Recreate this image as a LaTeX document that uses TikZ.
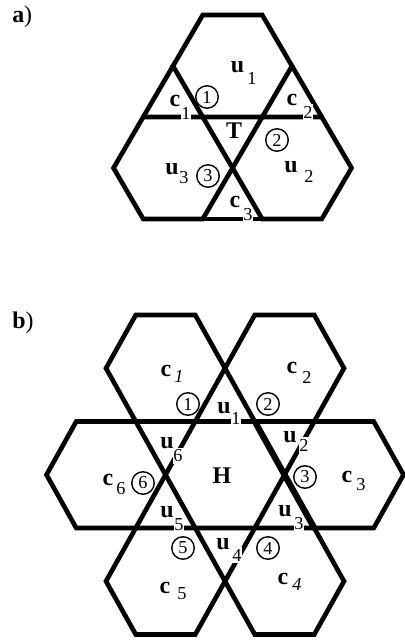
\documentclass[tikz,border=0pt]{standalone}
\usepackage{fontspec}
\setmainfont{Liberation Serif}
\begin{document}
\begin{tikzpicture}[hexline/.style={line width=3.3pt,line join=miter},lab/.style={inner sep=0pt,font=\fontsize{17}{17}\selectfont\bfseries},sub/.style={fill=white,inner xsep=.6pt,inner ysep=1.5pt,font=\fontsize{13}{13}\selectfont},num/.style={draw,circle,line width=1pt,inner sep=0pt,minimum size=16pt,font=\fontsize{13}{13}\selectfont}]
\useasboundingbox (0,0) rectangle (10.1,16.025);
\draw[hexline] (7.3,14.375) -- (6.556,15.65) -- (5.069,15.65) -- (4.325,14.375) -- (5.069,13.1) -- (6.556,13.1) -- cycle;
\draw[hexline] (5.813,11.825) -- (5.069,13.1) -- (3.581,13.1) -- (2.838,11.825) -- (3.581,10.55) -- (5.069,10.55) -- cycle;
\draw[hexline] (8.788,11.825) -- (8.044,13.1) -- (6.556,13.1) -- (5.813,11.825) -- (6.556,10.55) -- (8.044,10.55) -- cycle;
\draw[hexline] (4.325,14.375) -- (3.581,13.1);
\draw[hexline] (7.3,14.375) -- (8.044,13.1);
\draw[hexline] (5.069,10.55) -- (6.556,10.55);
\node[anchor=west,inner sep=0pt,font=\fontsize{17}{17}\selectfont] (pa) at (0.3,15.6) {\textbf{a})};
\node[lab] (au1) at (5.938,14.35) {u};
\node[sub] (au1s) at (6.3,14.075) {1};
\node[lab] (ac1) at (4.375,13.5) {c};
\node[sub] (ac1s) at (4.65,13.2) {1};
\node[num] (an1) at (5.175,13.6) {1};
\node[lab] (ac2) at (7.3,13.525) {c};
\node[sub] (ac2s) at (7.7,13.225) {2};
\node[lab] (aT) at (5.85,12.75) {T};
\node[num] (an2) at (6.925,12.525) {2};
\node[lab] (au3) at (4.3,11.8) {u};
\node[sub] (au3s) at (4.6,11.575) {3};
\node[num] (an3) at (5.2,11.625) {3};
\node[lab] (au2) at (7.275,11.85) {u};
\node[sub] (au2s) at (7.725,11.625) {2};
\node[lab] (ac3) at (5.875,10.975) {c};
\node[sub] (ac3s) at (6.2,10.65) {3};
\draw[hexline] (5.625,6.819) -- (4.881,8.15) -- (3.394,8.15) -- (2.65,6.819) -- (3.394,5.488) -- (4.881,5.488) -- cycle;
\draw[hexline] (8.6,6.819) -- (7.856,8.15) -- (6.369,8.15) -- (5.625,6.819) -- (6.369,5.488) -- (7.856,5.488) -- cycle;
\draw[hexline] (10.088,4.156) -- (9.344,5.488) -- (7.856,5.488) -- (7.113,4.156) -- (7.856,2.825) -- (9.344,2.825) -- cycle;
\draw[hexline] (8.6,1.494) -- (7.856,2.825) -- (6.369,2.825) -- (5.625,1.494) -- (6.369,0.163) -- (7.856,0.163) -- cycle;
\draw[hexline] (5.625,1.494) -- (4.881,2.825) -- (3.394,2.825) -- (2.65,1.494) -- (3.394,0.163) -- (4.881,0.163) -- cycle;
\draw[hexline] (4.138,4.156) -- (3.394,5.488) -- (1.906,5.488) -- (1.163,4.156) -- (1.906,2.825) -- (3.394,2.825) -- cycle;
\draw[hexline] (7.113,4.156) -- (6.369,5.488) -- (4.881,5.488) -- (4.138,4.156) -- (4.881,2.825) -- (6.369,2.825) -- cycle;
\draw[hexline,line width=4.4pt] (6.369,5.488) -- (7.113,4.156) -- (7.856,2.825);
\node[anchor=west,inner sep=0pt,font=\fontsize{17}{17}\selectfont] (pb) at (0.3,7.95) {\textbf{b})};
\node[lab] (bc1) at (4.15,6.75) {c};
\node[sub] (bc1s) at (4.475,6.625) {\itshape 1};
\node[lab] (bc2) at (7.3,6.825) {c};
\node[sub] (bc2s) at (7.675,6.6) {2};
\node[lab] (bc3) at (8.675,4.1) {c};
\node[sub] (bc3s) at (9.025,3.9) {3};
\node[lab] (bc4) at (7.075,1.55) {c};
\node[sub] (bc4s) at (7.425,1.425) {\itshape 4};
\node[lab] (bc5) at (4.125,1.325) {c};
\node[sub] (bc5s) at (4.55,1.175) {5};
\node[lab] (bc6) at (2.7,4.025) {c};
\node[sub] (bc6s) at (3.025,3.8) {6};
\node[lab] (bH) at (5.55,4.125) {H};
\node[lab] (bu1) at (5.6,5.825) {u};
\node[sub] (bu1s) at (5.9,5.575) {1};
\node[lab] (bu2) at (7.25,5.1) {u};
\node[sub] (bu2s) at (7.6,4.9) {2};
\node[lab] (bu3) at (7.125,3.25) {u};
\node[sub] (bu3s) at (7.475,2.925) {3};
\node[lab] (bu4) at (5.575,2.425) {u};
\node[sub] (bu4s) at (5.925,2.15) {4};
\node[lab] (bu5) at (4.175,3.225) {u};
\node[sub] (bu5s) at (4.475,2.9) {5};
\node[lab] (bu6) at (4.175,4.95) {u};
\node[sub] (bu6s) at (4.45,4.625) {6};
\node[num] (bn1) at (4.7,5.925) {1};
\node[num] (bn2) at (6.7,5.925) {2};
\node[num] (bn3) at (7.625,4.1) {3};
\node[num] (bn4) at (6.7,2.325) {4};
\node[num] (bn5) at (4.575,2.325) {5};
\node[num] (bn6) at (3.575,3.95) {6};
\end{tikzpicture}
\end{document}
